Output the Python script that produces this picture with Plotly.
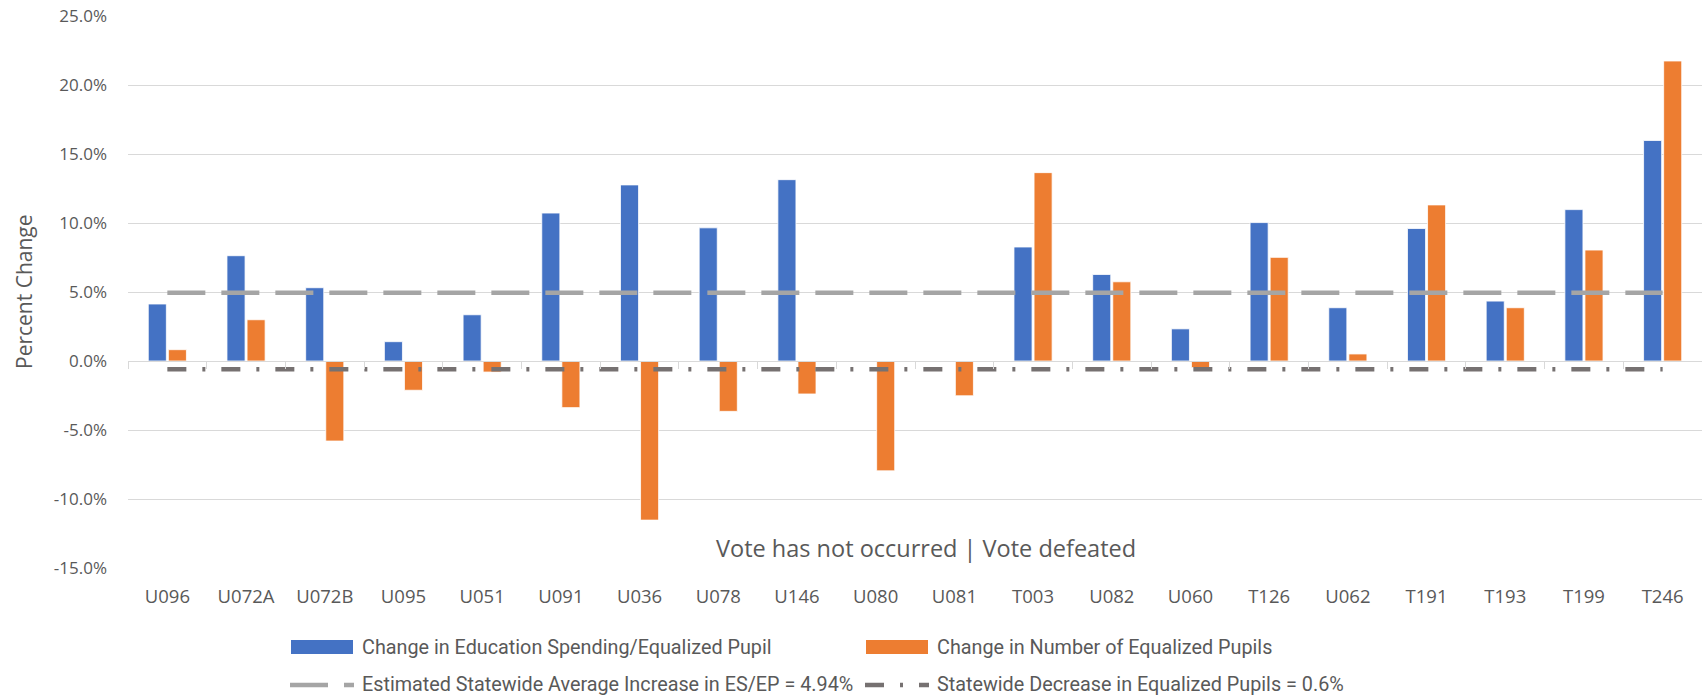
import plotly.graph_objects as go

categories = ["U096", "U072A", "U072B", "U095", "U051", "U091", "U036", "U078", "U146", "U080",
              "U081", "T003", "U082", "U060", "T126", "U062", "T191", "T193", "T199", "T246"]
spending_change = [4.13, 7.63, 5.31, 1.40, 3.35, 10.72, 12.76, 9.65, 13.14, None,
                   None, 8.26, 6.27, 2.33, 10.03, 3.86, 9.60, 4.34, 10.97, 15.98]
pupils_change = [0.82, 2.99, -5.80, -2.12, -0.80, -3.38, -11.53, -3.65, -2.39, -7.96,
                 -2.52, 13.65, 5.74, -0.48, 7.51, 0.51, 11.31, 3.86, 8.04, 21.74]
avg_increase = [4.94, 4.94, 4.94, 4.94, 4.94, 4.94, 4.94, 4.94, 4.94, 4.94,
                4.94, 4.94, 4.94, 4.94, 4.94, 4.94, 4.94, 4.94, 4.94, 4.94]
pupil_decrease = [-0.6, -0.6, -0.6, -0.6, -0.6, -0.6, -0.6, -0.6, -0.6, -0.6,
                  -0.6, -0.6, -0.6, -0.6, -0.6, -0.6, -0.6, -0.6, -0.6, -0.6]
y_ticks = [-15, -10, -5, 0, 5, 10, 15, 20, 25]

names = ["Change in Education Spending/Equalized Pupil",
         "Change in Number of Equalized Pupils",
         "Estimated Statewide Average Increase in ES/EP = 4.94%",
         "Statewide Decrease in Equalized Pupils = 0.6%"]

BLUE = "#4472C4"
ORANGE = "#ED7D31"
LGRAY = "#A5A5A5"
DGRAY = "#767171"
TXT = "#595959"
DASH1 = "38px,16px"
DASH2 = "19px,16px,3px,16px"

W, H = 1702, 697
ML, MR, MT, MB = 128, 0, 16, 129
PW, PH = W - ML - MR, H - MT - MB
YMIN, YMAX = -15, 25

fig = go.Figure()
fig.add_trace(go.Bar(x=categories, y=spending_change, name=names[0], marker_color=BLUE,
                     marker_line=dict(color="white", width=0.8), showlegend=False))
fig.add_trace(go.Bar(x=categories, y=pupils_change, name=names[1], marker_color=ORANGE,
                     marker_line=dict(color="white", width=0.8), showlegend=False))
fig.add_trace(go.Scatter(x=categories, y=avg_increase, name=names[2], mode="lines",
                         xaxis="x2", yaxis="y",
                         line=dict(color=LGRAY, width=4.5, dash=DASH1), showlegend=False))
fig.add_trace(go.Scatter(x=categories, y=pupil_decrease, name=names[3], mode="lines",
                         xaxis="x2", yaxis="y",
                         line=dict(color=DGRAY, width=4.5, dash=DASH2), showlegend=False))

font_main = "Open Sans, Noto Sans, sans-serif"
font_leg = "Liberation Sans Narrow, Roboto, sans-serif"


def px_x(page_px):
    return (page_px - ML) / PW


def px_y(page_py):
    return (H - MB - page_py) / PH


shapes = []
annotations = []
# custom legend (swatches + labels), positions in page pixels
leg_items = [
    (291, 647, "bar", BLUE, names[0]),
    (866, 647, "bar", ORANGE, names[1]),
    (290, 684, "line1", LGRAY, names[2]),
    (865, 684, "line2", DGRAY, names[3]),
]
for x0, yc, kind, col, label in leg_items:
    if kind == "bar":
        shapes.append(dict(type="rect", xref="paper", yref="paper",
                           x0=px_x(x0), x1=px_x(x0 + 62), y0=px_y(yc + 7), y1=px_y(yc - 7),
                           fillcolor=col, line=dict(width=0)))
    else:
        shapes.append(dict(type="line", xref="paper", yref="paper",
                           x0=px_x(x0), x1=px_x(x0 + 64), y0=px_y(yc + 1), y1=px_y(yc + 1),
                           line=dict(color=col, width=4.5, dash=DASH1 if kind == "line1" else DASH2)))
    annotations.append(dict(xref="paper", yref="paper", x=px_x(x0 + 69 if kind == "bar" else x0 + 70),
                            y=px_y(yc),
                            xanchor="left", yanchor="middle", text=label, showarrow=False,
                            font=dict(family=font_leg, size=19.8, color=TXT)))

annotations.append(dict(xref="paper", yref="paper", x=px_x(926), y=px_y(548),
                        xanchor="center", yanchor="middle",
                        text="Vote has not occurred | Vote defeated", showarrow=False,
                        font=dict(family=font_main, size=23.5, color=TXT)))

annotations.append(dict(xref="paper", yref="paper", x=px_x(24), y=px_y(292),
                        xanchor="center", yanchor="middle", textangle=-90,
                        text="Percent Change", showarrow=False,
                        font=dict(family=font_main, size=21, color=TXT)))

zero_pos = (0 - YMIN) / (YMAX - YMIN)

fig.update_layout(
    width=W, height=H,
    margin=dict(l=ML, r=MR, t=MT, b=MB, pad=0, autoexpand=False),
    paper_bgcolor="white", plot_bgcolor="white",
    barmode="group", bargap=0.49, bargroupgap=0.1,
    font=dict(family=font_main, size=17, color=TXT),
    xaxis=dict(type="category", categoryorder="array", categoryarray=categories,
               range=[-0.5, len(categories) - 0.5], showgrid=False, showline=False,
               zeroline=False, ticks="", ticklabelstandoff=15, automargin=False,
               tickfont=dict(family=font_main, size=18.5, color=TXT)),
    xaxis2=dict(type="category", categoryorder="array", categoryarray=categories,
                range=[-0.5, len(categories) - 0.5], overlaying="x", anchor="free",
                position=zero_pos, side="bottom", showgrid=False, showline=True,
                linecolor="#D9D9D9", linewidth=1.2, ticks="outside", tickson="boundaries",
                ticklen=7, tickcolor="#D9D9D9", tickwidth=1.2, showticklabels=False,
                zeroline=False, automargin=False),
    yaxis=dict(range=[YMIN, YMAX], tickvals=y_ticks,
               ticktext=[f"{v:.1f}%" for v in y_ticks],
               showgrid=True, gridcolor="#D9D9D9", gridwidth=1.2, zeroline=False,
               showline=False, ticks="", ticklabelstandoff=20, ticklabeloverflow="allow",
               automargin=False,
               tickfont=dict(family=font_main, size=17, color=TXT)),
    shapes=shapes,
    annotations=annotations,
)

fig.write_html("out.html", config={"displayModeBar": False},
               post_script="document.body.style.margin='0';document.body.style.overflow='hidden';")
